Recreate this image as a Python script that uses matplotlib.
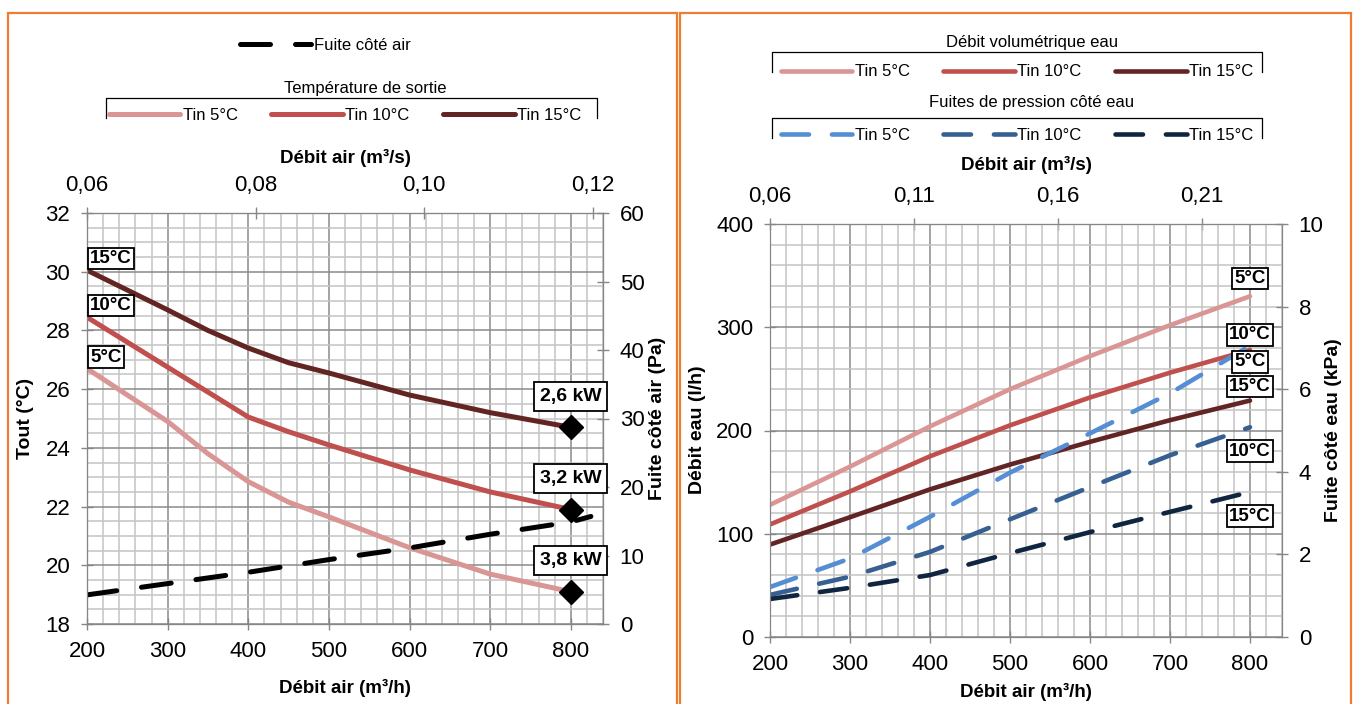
import matplotlib
matplotlib.use("Agg")
import matplotlib.pyplot as plt
from matplotlib.lines import Line2D
from matplotlib.patches import Rectangle
from matplotlib.ticker import MultipleLocator, FixedLocator, FuncFormatter

plt.rcParams['font.family'] = ['Liberation Sans', 'DejaVu Sans']

# ---- data, left chart (air side)
debit_air_t = [200, 300, 350, 400, 450, 500, 600, 700, 800]
tout_5 = [26.7, 24.9, 23.8, 22.85, 22.15, 21.65, 20.6, 19.7, 19.1]
tout_10 = [28.45, 26.75, 25.9, 25.05, 24.55, 24.1, 23.25, 22.5, 21.9]
tout_15 = [30.05, 28.7, 28.0, 27.4, 26.9, 26.55, 25.8, 25.2, 24.7]
puissances = ['3,8 kW', '3,2 kW', '2,6 kW']

debit_air_fuite = [200, 300, 400, 500, 600, 700, 800, 825]
fuite_air = [4.25, 5.9, 7.55, 9.4, 11.1, 13.1, 14.9, 15.7]

# ---- data, right chart (water side)
debit_air = [200, 300, 400, 500, 600, 700, 800]
debit_eau_5 = [128, 165, 204, 240, 272, 302, 330]
debit_eau_10 = [109, 141, 175, 205, 232, 256, 278]
debit_eau_15 = [89.5, 116, 143, 167, 189, 210, 229]
fuite_eau_5 = [1.21, 1.9, 2.91, 3.98, 4.93, 5.9, 7.05]
fuite_eau_10 = [1.02, 1.46, 2.06, 2.85, 3.63, 4.4, 5.08]
fuite_eau_15 = [0.92, 1.19, 1.5, 2.03, 2.54, 3.03, 3.51]

temp_labels = ['5°C', '10°C', '15°C']
red_colors = ['#D99694', '#C0504D', '#632523']
blue_colors = ['#558ED5', '#376092', '#10253F']

W, H = 1357, 704
fig = plt.figure(figsize=(W / 100, H / 100), dpi=100)


def fx(px):
    return px / W


def fy(py):
    return 1 - py / H


def comma(fmt):
    return FuncFormatter(lambda v, p: fmt.format(v).replace('.', ','))


GRID_MAJ = '#8a8a8a'
GRID_MIN = '#c4c4c4'
SPINE = '#868686'
TICK_KW = dict(direction='inout', length=9, width=1, color=SPINE, labelsize=16, pad=7.5)


def style(ax, xminor, ymaj, ymin):
    ax.xaxis.set_major_locator(MultipleLocator(100))
    ax.xaxis.set_minor_locator(MultipleLocator(xminor))
    ax.yaxis.set_major_locator(MultipleLocator(ymaj))
    ax.yaxis.set_minor_locator(MultipleLocator(ymin))
    ax.grid(which='major', color=GRID_MAJ, lw=1.1)
    ax.grid(which='minor', color=GRID_MIN, lw=1.1)
    ax.set_axisbelow(True)
    ax.tick_params(which='major', **TICK_KW)
    ax.tick_params(which='minor', length=0)
    for s in ax.spines.values():
        s.set_color(SPINE)


box_small = dict(boxstyle='square,pad=0.12', fc='white', ec='black', lw=1.3)
box_big = dict(boxstyle='square,pad=0.3', fc='white', ec='black', lw=1.3)

# ================= left chart =================
ax1 = fig.add_axes([fx(87), fy(624), (603 - 87) / W, (624 - 213) / H])
style(ax1, 20, 2, 0.5)
ax1.set_xlim(200, 840)
ax1.set_ylim(18, 32)

for y, c in zip([tout_5, tout_10, tout_15], red_colors):
    ax1.plot(debit_air_t, y, color=c, lw=3.6, solid_capstyle='round', solid_joinstyle='round')
    ax1.plot(debit_air_t[-1], y[-1], marker='D', ms=12, color='black', ls='none')

ax1r = ax1.twinx()
ax1r.set_ylim(0, 60)
ax1r.yaxis.set_major_locator(MultipleLocator(10))
ax1r.tick_params(**TICK_KW)
ax1r.plot(debit_air_fuite, fuite_air, color='black', lw=3.6, dashes=(6, 5),
          dash_capstyle='round')
for s in ax1r.spines.values():
    s.set_color(SPINE)

ax1t = ax1.twiny()
ax1t.set_xlim(0.06, 0.1212)
ax1t.xaxis.set_major_locator(FixedLocator([0.06, 0.08, 0.10, 0.12]))
ax1t.xaxis.set_major_formatter(comma('{:.2f}'))
ax1t.tick_params(**TICK_KW)
for s in ax1t.spines.values():
    s.set_color(SPINE)

for y, lab in zip([tout_5, tout_10, tout_15], temp_labels):
    ax1t.annotate(lab, xy=(debit_air_t[0], y[0]), xycoords=ax1.transData,
                  xytext=(3, 3), textcoords='offset pixels', ha='left', va='bottom',
                  fontsize=13.5, fontweight='bold', bbox=box_small, annotation_clip=False)
for y, lab in zip([tout_5, tout_10, tout_15], puissances):
    ax1t.annotate(lab, xy=(debit_air_t[-1], y[-1]), xycoords=ax1.transData,
                  xytext=(0, 31), textcoords='offset pixels', ha='center', va='center',
                  fontsize=14, fontweight='bold', bbox=box_big, annotation_clip=False)

fig.text(fx(345), fy(688), 'Débit air (m³/h)', ha='center', va='center', fontsize=13.5, fontweight='bold')
fig.text(fx(345), fy(158), 'Débit air (m³/s)', ha='center', va='center', fontsize=13.5, fontweight='bold')
fig.text(fx(25), fy(418), 'Tout (°C)', ha='center', va='center', rotation=90, fontsize=14, fontweight='bold')
fig.text(fx(657), fy(418), 'Fuite côté air (Pa)', ha='center', va='center', rotation=90, fontsize=14, fontweight='bold')

# legends left
h_air = [Line2D([], [], color='black', lw=3.6, dashes=(6, 5), dash_capstyle='round')]
fig.legend(h_air, ['Fuite côté air'], loc='center', bbox_to_anchor=(fx(325), fy(45)),
           frameon=False, fontsize=12, handlelength=4.3, handletextpad=0.15)
fig.text(fx(365), fy(88), 'Température de sortie', ha='center', va='center', fontsize=12)
fig.add_artist(Line2D([fx(106), fx(106), fx(597), fx(597)], [fy(118), fy(98), fy(98), fy(118)],
                      transform=fig.transFigure, color='black', lw=0.9))
h_t = [Line2D([], [], color=c, lw=3.6, solid_capstyle='round') for c in red_colors]
fig.legend(h_t, ['Tin ' + t for t in temp_labels], loc='center', bbox_to_anchor=(fx(345), fy(115)),
           ncol=3, frameon=False, fontsize=12, handlelength=4.3, handletextpad=0.15, columnspacing=2.0)

# ================= right chart =================
ax2 = fig.add_axes([fx(770), fy(637), (1282 - 770) / W, (637 - 224) / H])
style(ax2, 20, 100, 20)
ax2.set_xlim(200, 840)
ax2.set_ylim(0, 400)

for y, c in zip([debit_eau_5, debit_eau_10, debit_eau_15], red_colors):
    ax2.plot(debit_air, y, color=c, lw=3.3, solid_capstyle='round', solid_joinstyle='round')

top2 = ax2.secondary_xaxis('top', functions=(lambda x: x / 3600, lambda x: x * 3600))
top2.xaxis.set_major_locator(FixedLocator([200 / 3600 + 0.05 * k for k in range(4)]))
top2.xaxis.set_major_formatter(comma('{:.2f}'))
top2.tick_params(**TICK_KW)
top2.spines['top'].set_color(SPINE)

ax2r = ax2.twinx()
ax2r.set_ylim(0, 10)
ax2r.yaxis.set_major_locator(MultipleLocator(2))
ax2r.tick_params(**TICK_KW)
for s in ax2r.spines.values():
    s.set_color(SPINE)
for y, c in zip([fuite_eau_5, fuite_eau_10, fuite_eau_15], blue_colors):
    ax2r.plot(debit_air, y, color=c, lw=3.3, dashes=(6, 5), dash_capstyle='round')

lab_specs = [
    (debit_eau_5, ax2, 18, '5°C'),
    (debit_eau_10, ax2, 15, '10°C'),
    (fuite_eau_5, ax2r, -16, '5°C'),
    (debit_eau_15, ax2, 14, '15°C'),
    (fuite_eau_10, ax2r, -24, '10°C'),
    (fuite_eau_15, ax2r, -24, '15°C'),
]
for y, a, off, lab in lab_specs:
    ax2r.annotate(lab, xy=(debit_air[-1], y[-1]), xycoords=a.transData,
                  xytext=(0, off), textcoords='offset pixels', ha='center', va='center',
                  fontsize=13.5, fontweight='bold', bbox=box_small, annotation_clip=False)

fig.text(fx(1026), fy(692), 'Débit air (m³/h)', ha='center', va='center', fontsize=13.5, fontweight='bold')
fig.text(fx(1026), fy(165), 'Débit air (m³/s)', ha='center', va='center', fontsize=13.5, fontweight='bold')
fig.text(fx(697), fy(430), 'Débit eau (l/h)', ha='center', va='center', rotation=90, fontsize=14, fontweight='bold')
fig.text(fx(1333), fy(430), 'Fuite côté eau (kPa)', ha='center', va='center', rotation=90, fontsize=14, fontweight='bold')

# legends right
fig.text(fx(1032), fy(43), 'Débit volumétrique eau', ha='center', va='center', fontsize=12)
fig.add_artist(Line2D([fx(772), fx(772), fx(1262), fx(1262)], [fy(72), fy(52), fy(52), fy(72)],
                      transform=fig.transFigure, color='black', lw=0.9))
h_q = [Line2D([], [], color=c, lw=3.3, solid_capstyle='round') for c in red_colors]
fig.legend(h_q, ['Tin ' + t for t in temp_labels], loc='center', bbox_to_anchor=(fx(1017), fy(72)),
           ncol=3, frameon=False, fontsize=12, handlelength=4.3, handletextpad=0.15, columnspacing=2.0)

fig.text(fx(1032), fy(103), 'Fuites de pression côté eau', ha='center', va='center', fontsize=12)
fig.add_artist(Line2D([fx(772), fx(772), fx(1262), fx(1262)], [fy(138), fy(118), fy(118), fy(138)],
                      transform=fig.transFigure, color='black', lw=0.9))
h_p = [Line2D([], [], color=c, lw=3.3, dashes=(6, 5), dash_capstyle='round') for c in blue_colors]
fig.legend(h_p, ['Tin ' + t for t in temp_labels], loc='center', bbox_to_anchor=(fx(1017), fy(135)),
           ncol=3, frameon=False, fontsize=12, handlelength=4.3, handletextpad=0.15, columnspacing=2.0)

# orange frames around both panels
for x0, x1 in [(8, 677), (680, 1351)]:
    fig.add_artist(Rectangle((fx(x0), -0.02), (x1 - x0) / W, fy(13) + 0.02,
                             transform=fig.transFigure, fill=False, ec='#ED7D31', lw=1.6))

fig.savefig('out.png', dpi=100)
